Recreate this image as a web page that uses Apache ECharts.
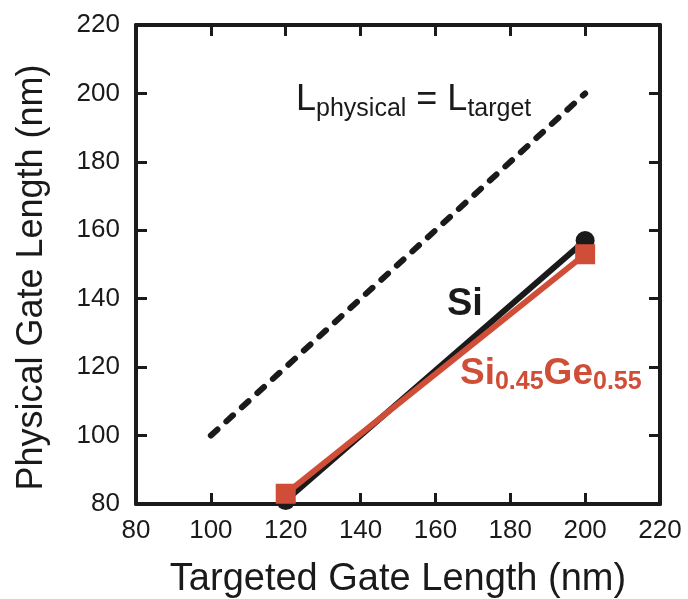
<!DOCTYPE html>
<html>
<head>
<meta charset="utf-8">
<script src="https://cdn.jsdelivr.net/npm/echarts@6/dist/echarts.min.js"></script>
<style>
  html, body { margin: 0; padding: 0; background: #fff; }
  #chart { width: 688px; height: 599px; }
</style>
</head>
<body>
<div id="chart"></div>
<script>
// Targeted gate length (nm) of each device
const targetedLength = [120, 200];
// Measured physical gate length (nm)
const siValues = [81, 157];
const siGeValues = [83, 153];
// Reference line: physical length equal to target length
const identityLine = [[100, 100], [200, 200]];
const tickInterval = 20;

const FONT = '"Liberation Sans", Arial, Helvetica, sans-serif';
const INK = '#1a1a1a';
const RED = '#d04e38';

const pairs = (xs, ys) => xs.map((x, i) => [x, ys[i]]);

const axisCommon = {
  type: 'value',
  interval: tickInterval,
  axisLine: { show: true, lineStyle: { color: INK, width: 4 } },
  axisTick: { show: true, inside: true, length: 11, lineStyle: { color: INK, width: 3 } },
  splitLine: { show: false }
};

const chart = echarts.init(document.getElementById('chart'), null, { renderer: 'canvas' });

chart.setOption({
  backgroundColor: '#ffffff',
  animation: false,
  grid: { left: 136, right: 28, top: 25, bottom: 95, containLabel: false, outerBoundsMode: 'none' },
  xAxis: [
    Object.assign({}, axisCommon, {
      min: 80, max: 220, position: 'bottom',
      axisLabel: { fontSize: 26, fontFamily: FONT, color: INK, margin: 14 },
      name: 'Targeted Gate Length (nm)',
      nameLocation: 'middle',
      nameGap: 57,
      nameTextStyle: { fontSize: 38, fontFamily: FONT, color: INK }
    }),
    Object.assign({}, axisCommon, {
      min: 80, max: 220, position: 'top',
      axisLabel: { show: false }
    })
  ],
  yAxis: [
    Object.assign({}, axisCommon, {
      min: 80, max: 220, position: 'left',
      axisLabel: { fontSize: 26, fontFamily: FONT, color: INK, margin: 16 },
      name: 'Physical Gate Length (nm)',
      nameLocation: 'middle',
      nameGap: 86,
      nameTextStyle: { fontSize: 36, fontFamily: FONT, color: INK, padding: [0, 26, 0, 0] }
    }),
    Object.assign({}, axisCommon, {
      min: 80, max: 220, position: 'right',
      axisLabel: { show: false }
    })
  ],
  series: [
    {
      name: 'identity',
      type: 'line',
      data: identityLine,
      showSymbol: false,
      silent: true,
      lineStyle: { color: INK, width: 6, type: [9, 12], cap: 'round' },
      z: 2
    },
    {
      name: 'Si',
      type: 'line',
      data: pairs(targetedLength, siValues),
      symbol: 'circle',
      symbolSize: 19,
      itemStyle: { color: INK },
      lineStyle: { color: INK, width: 6 },
      z: 3
    },
    {
      name: 'Si0.45Ge0.55',
      type: 'line',
      data: pairs(targetedLength, siGeValues),
      symbol: 'rect',
      symbolSize: 20,
      itemStyle: { color: RED },
      lineStyle: { color: RED, width: 6 },
      z: 4
    }
  ],
  graphic: [
    {
      type: 'text',
      left: 296, top: 82,
      style: {
        text: '{m|L}{s|physical}{m| = L}{s|target}',
        rich: {
          m: { fontSize: 36, fontFamily: FONT, fill: INK, color: INK, lineHeight: 36, verticalAlign: 'top' },
          s: { fontSize: 25, fontFamily: FONT, fill: INK, color: INK, lineHeight: 25, verticalAlign: 'top', padding: [15, 0, 0, 0] }
        }
      }
    },
    {
      type: 'text',
      left: 447, top: 286,
      style: {
        text: 'Si',
        fontSize: 38, fontWeight: 'bold', fontFamily: FONT, fill: INK
      }
    },
    {
      type: 'text',
      left: 460, top: 355,
      style: {
        text: '{m|Si}{s|0.45}{m|Ge}{s|0.55}',
        rich: {
          m: { fontSize: 37, fontWeight: 'bold', fontFamily: FONT, fill: RED, color: RED, lineHeight: 37, verticalAlign: 'top' },
          s: { fontSize: 25, fontWeight: 'bold', fontFamily: FONT, fill: RED, color: RED, lineHeight: 25, verticalAlign: 'top', padding: [15, 0, 0, 0] }
        }
      }
    }
  ]
});
</script>
</body>
</html>
